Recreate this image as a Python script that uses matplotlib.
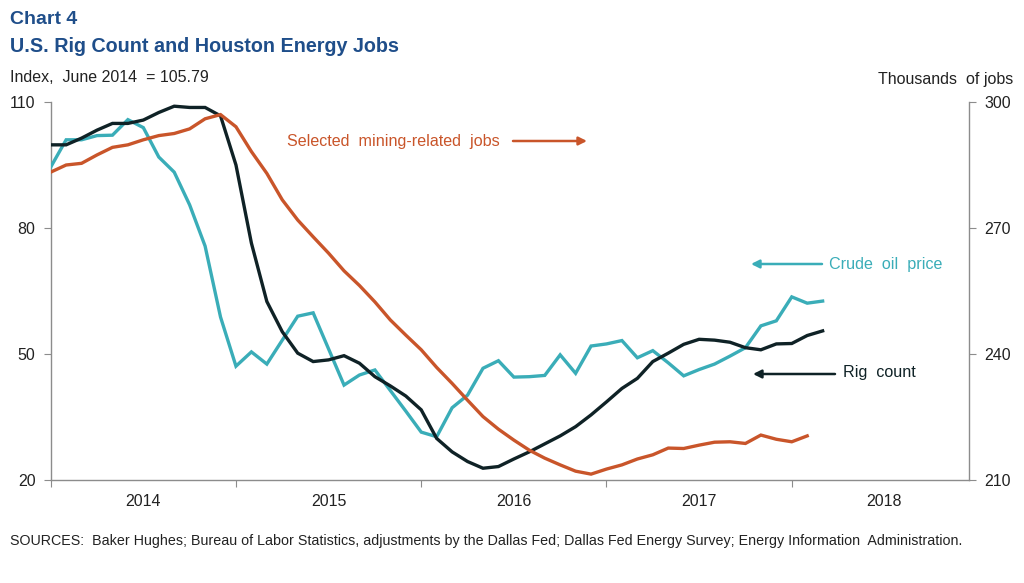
import matplotlib
matplotlib.use("Agg")
import matplotlib.pyplot as plt
import numpy as np

plt.rcParams['font.family'] = ['Liberation Sans', 'DejaVu Sans']

# Monthly data, Jan 2014 = month 0
rig_count = [99.8, 99.8, 101.4, 103.3, 104.9, 104.9, 105.7, 107.5, 109.0, 108.7, 108.7, 106.7,
             95.0, 76.4, 62.5, 55.3, 50.2, 48.2, 48.6, 49.6, 47.8, 44.6, 42.4, 40.0,
             36.7, 29.9, 26.7, 24.4, 22.8, 23.2, 25.0, 26.7, 28.6, 30.5, 32.7, 35.5,
             38.6, 41.8, 44.2, 48.2, 50.2, 52.3, 53.5, 53.3, 52.8, 51.5, 51.0, 52.4,
             52.5, 54.4, 55.5]
oil_price = [94.5, 101.0, 101.0, 102.0, 102.1, 105.8, 103.9, 96.9, 93.3, 85.5, 75.7, 58.8,
             47.1, 50.5, 47.6, 53.3, 59.0, 59.8, 51.2, 42.6, 45.0, 46.2, 41.3, 36.4,
             31.4, 30.3, 37.2, 40.2, 46.6, 48.4, 44.5, 44.6, 44.9, 49.8, 45.4, 51.9,
             52.4, 53.2, 49.1, 50.8, 47.9, 44.8, 46.3, 47.6, 49.5, 51.5, 56.7, 57.9,
             63.6, 62.1, 62.6]
mining_jobs = [283.3, 285.0, 285.4, 287.4, 289.2, 289.8, 291.0, 292.0, 292.5, 293.6, 296.0, 297.0,
               294.1, 288.2, 283.0, 276.7, 271.9, 267.9, 264.0, 259.8, 256.3, 252.4, 248.1, 244.5,
               241.0, 236.8, 233.0, 229.0, 225.1, 222.1, 219.5, 217.1, 215.2, 213.6, 212.1, 211.4,
               212.6, 213.6, 215.0, 216.0, 217.6, 217.5, 218.3, 219.0, 219.1, 218.7, 220.7, 219.7,
               219.1, 220.5]
years = ['2014', '2015', '2016', '2017', '2018']
left_ticks = [20, 50, 80, 110]
right_ticks = [210, 240, 270, 300]

c_rig = '#0f2226'
c_oil = '#3aadb8'
c_job = '#c9552a'
c_title = '#1f4e8a'
c_axis = '#8c8c8c'
c_text = '#222222'

fig = plt.figure(figsize=(10.24, 5.83), dpi=100)
ax = fig.add_axes([50.7/1024, 1-480/583, (969.3-50.7)/1024, 378/583])
ax2 = ax.twinx()

m_rig = np.arange(len(rig_count))
m_oil = np.arange(len(oil_price))
m_job = np.arange(len(mining_jobs))

ax.plot(m_oil, oil_price, color=c_oil, lw=2.4, solid_joinstyle='miter', zorder=3)
ax.plot(m_rig, rig_count, color=c_rig, lw=2.4, solid_joinstyle='miter', zorder=4)
ax2.plot(m_job, mining_jobs, color=c_job, lw=2.4, solid_joinstyle='miter', zorder=3)

xmax = 59.5
ax.set_xlim(0, xmax)
ax.set_ylim(20, 110)
ax2.set_ylim(210, 300)
ax.set_yticks(left_ticks)
ax2.set_yticks(right_ticks)
ax.set_yticklabels([str(t) for t in left_ticks], fontsize=11.5, color=c_text)
ax2.set_yticklabels([str(t) for t in right_ticks], fontsize=11.5, color=c_text)

# x ticks at year boundaries, labels at year centres
ax.set_xticks([0, 12, 24, 36, 48])
ax.set_xticklabels([])
ax.set_xticks([6, 18, 30, 42, 54], minor=True)
ax.set_xticklabels(years, minor=True, fontsize=11.5, color=c_text)
ax.tick_params(axis='x', which='major', length=5, color=c_axis, direction='out')
ax.tick_params(axis='x', which='minor', length=0, pad=10)
ax.tick_params(axis='y', length=5, color=c_axis, pad=6)
ax2.tick_params(axis='y', length=5, color=c_axis, pad=6)

for a in (ax, ax2):
    a.spines['top'].set_visible(False)
    for s in ['left', 'right', 'bottom']:
        a.spines[s].set_color(c_axis)
        a.spines[s].set_linewidth(1.0)
ax.spines['right'].set_visible(False)
ax2.spines['left'].set_visible(False)
ax2.spines['bottom'].set_visible(False)

# Titles
fig.text(10/1024, 1-19/583, 'Chart 4', fontsize=14, fontweight='bold', color=c_title, va='center', ha='left')
fig.text(10/1024, 1-46/583, 'U.S. Rig Count and Houston Energy Jobs', fontsize=14.2, fontweight='bold',
         color=c_title, va='center', ha='left')
fig.text(10/1024, 1-77/583, 'Index,  June 2014  = 105.79', fontsize=11.5, color=c_text, va='center', ha='left')
fig.text(1013/1024, 1-80/583, 'Thousands  of jobs', fontsize=11.5, color=c_text, va='center', ha='right')
fig.text(10/1024, 1-541/583,
         'SOURCES:  Baker Hughes; Bureau of Labor Statistics, adjustments by the Dallas Fed; Dallas Fed Energy Survey; Energy Information  Administration.',
         fontsize=10.25, color=c_text, va='center', ha='left')

# Annotations (in axes fraction coords)
def fx(px):
    return (px - 50.7) / (969.3 - 50.7)

def fy(py):
    return (480 - py) / 378

ax.text(fx(287), fy(141), 'Selected  mining-related  jobs', transform=ax.transAxes, fontsize=11.6,
        color=c_job, va='center', ha='left')
ax.annotate('', xy=(fx(587), fy(141)), xytext=(fx(513), fy(141)), xycoords='axes fraction',
            textcoords='axes fraction',
            arrowprops=dict(arrowstyle='-|>', color=c_job, lw=1.8, mutation_scale=12, shrinkA=0, shrinkB=0))
ax.text(fx(829), fy(264), 'Crude  oil  price', transform=ax.transAxes, fontsize=11.6,
        color=c_oil, va='center', ha='left')
ax.annotate('', xy=(fx(751), fy(264)), xytext=(fx(822), fy(264)), xycoords='axes fraction',
            textcoords='axes fraction',
            arrowprops=dict(arrowstyle='-|>', color=c_oil, lw=1.8, mutation_scale=12, shrinkA=0, shrinkB=0))
ax.text(fx(843), fy(373), 'Rig  count', transform=ax.transAxes, fontsize=11.6,
        color=c_rig, va='center', ha='left')
ax.annotate('', xy=(fx(753), fy(374)), xytext=(fx(835), fy(374)), xycoords='axes fraction',
            textcoords='axes fraction',
            arrowprops=dict(arrowstyle='-|>', color=c_rig, lw=1.8, mutation_scale=12, shrinkA=0, shrinkB=0))

fig.savefig('out.png', dpi=100)
